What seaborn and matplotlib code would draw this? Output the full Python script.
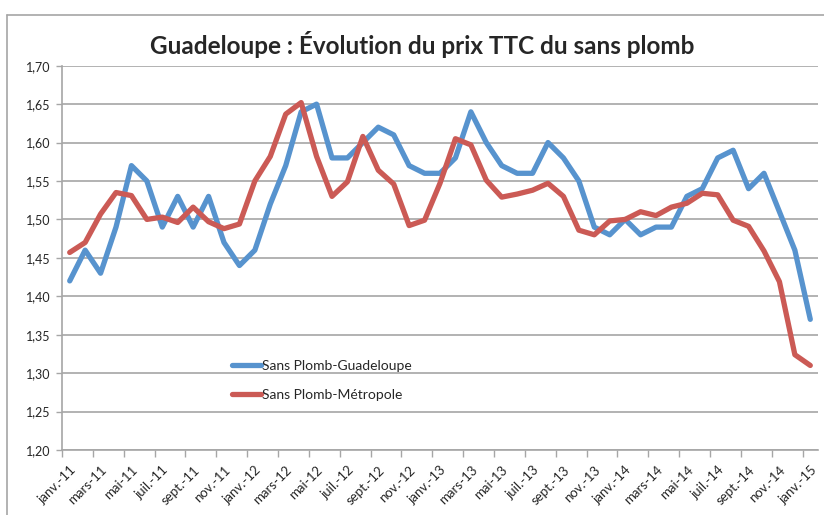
"""Guadeloupe : prix TTC du sans plomb vs Métropole (janv. 2011 - janv. 2015)."""
import matplotlib
matplotlib.use("Agg")

import matplotlib.pyplot as plt
import numpy as np
import pandas as pd
import seaborn as sns
from matplotlib.lines import Line2D
from matplotlib.ticker import FuncFormatter

# Mois (catégories de l'axe X)
MOIS = ["janv.", "févr.", "mars", "avr.", "mai", "juin",
        "juil.", "août", "sept.", "oct.", "nov.", "déc."]
PERIODES = [f"{m}-{a}" for a in range(11, 15) for m in MOIS] + ["janv.-15"]

# Prix (€/litre)
GUADELOUPE = [1.42, 1.46, 1.43, 1.49, 1.57, 1.55, 1.49, 1.53, 1.49, 1.53,
              1.47, 1.44, 1.46, 1.52, 1.57, 1.64, 1.65, 1.58, 1.58, 1.60,
              1.62, 1.61, 1.57, 1.56, 1.56, 1.58, 1.64, 1.60, 1.57, 1.56,
              1.56, 1.60, 1.58, 1.55, 1.49, 1.48, 1.50, 1.48, 1.49, 1.49,
              1.53, 1.54, 1.58, 1.59, 1.54, 1.56, 1.51, 1.46, 1.37]
METROPOLE = [1.457, 1.470, 1.507, 1.535, 1.531, 1.500, 1.503, 1.496, 1.516, 1.497,
             1.488, 1.494, 1.550, 1.582, 1.637, 1.652, 1.582, 1.530, 1.549, 1.608,
             1.564, 1.546, 1.492, 1.499, 1.547, 1.605, 1.597, 1.551, 1.529, 1.533,
             1.538, 1.547, 1.530, 1.486, 1.480, 1.498, 1.500, 1.510, 1.505, 1.516,
             1.521, 1.534, 1.532, 1.499, 1.491, 1.459, 1.419, 1.324, 1.310]

SERIES = ["Sans Plomb-Guadeloupe", "Sans Plomb-Métropole"]
COULEURS = {"Sans Plomb-Guadeloupe": "#5793CE", "Sans Plomb-Métropole": "#CB5A55"}
Y_TICKS = [1.20, 1.25, 1.30, 1.35, 1.40, 1.45, 1.50, 1.55, 1.60, 1.65, 1.70]
GRIS = "#A6A6A6"

sns.set_theme(style="white")
plt.rcParams["font.family"] = ["Lato", "DejaVu Sans"]

df = pd.DataFrame({
    "idx": list(range(len(PERIODES))) * 2,
    "prix": GUADELOUPE + METROPOLE,
    "serie": [SERIES[0]] * len(GUADELOUPE) + [SERIES[1]] * len(METROPOLE),
})

fig = plt.figure(figsize=(8.24, 5.15), dpi=100)
fig.patch.set_facecolor("white")
ax = fig.add_axes([62 / 824, 1 - 450 / 515, 756 / 824, 384.3 / 515])

sns.lineplot(data=df, x="idx", y="prix", hue="serie", hue_order=SERIES,
             palette=COULEURS, linewidth=3.8, errorbar=None, ax=ax)

n = len(PERIODES)
ax.set_xlim(-0.5, n - 0.5)
ax.set_ylim(1.20, 1.70)
ax.set_xlabel("")
ax.set_ylabel("")

# axe Y
ax.set_yticks(Y_TICKS)
ax.yaxis.set_major_formatter(FuncFormatter(lambda v, _: f"{v:.2f}".replace(".", ",")))
ax.tick_params(axis="y", which="major", length=4, width=1, color=GRIS,
               labelsize=9, pad=4, left=True)
ax.grid(axis="y", color=GRIS, linewidth=1.2)
ax.set_axisbelow(True)

# axe X : un libellé tous les deux mois, graduations entre les catégories
pos = np.arange(0, n, 2)
ax.set_xticks(pos)
ax.set_xticklabels([PERIODES[i] for i in pos], rotation=45, ha="right",
                   rotation_mode="anchor", fontsize=9.5)
ax.set_xticks(np.arange(-0.5, n, 2), minor=True)
ax.tick_params(axis="x", which="major", length=0, pad=10)
ax.tick_params(axis="x", which="minor", length=5, width=1, color=GRIS, bottom=True)

for side in ["top", "right"]:
    ax.spines[side].set_visible(False)
for side in ["left", "bottom"]:
    ax.spines[side].set_color(GRIS)
    ax.spines[side].set_linewidth(1.2)

handles, labels = ax.get_legend_handles_labels()
ax.legend(handles, labels, frameon=False, loc="upper left",
          bbox_to_anchor=(0.216, 0.252), borderpad=0, handlelength=2.1,
          handletextpad=0.05, labelspacing=1.2, fontsize=10)

fig.text(0.512, 1 - 45 / 515, "Guadeloupe : Évolution du prix TTC du sans plomb",
         ha="center", va="center", fontsize=17.5, fontweight="bold")

# cadre du graphique (bord gauche et haut)
fig.add_artist(Line2D([7.5 / 824, 7.5 / 824], [0, 1 - 15 / 515],
                      transform=fig.transFigure, color=GRIS, linewidth=1.2))
fig.add_artist(Line2D([7.5 / 824, 1], [1 - 15 / 515, 1 - 15 / 515],
                      transform=fig.transFigure, color=GRIS, linewidth=1.2))

fig.savefig("out.png", dpi=100, facecolor="white")
